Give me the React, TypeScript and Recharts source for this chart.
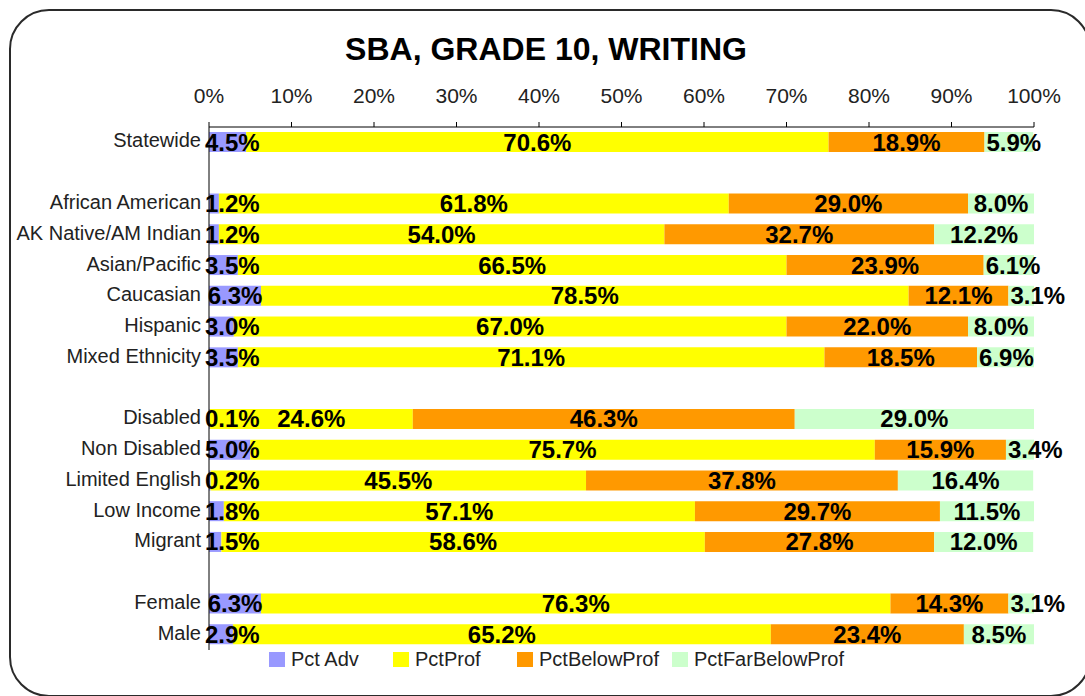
import React from 'react';
import { BarChart, Bar, XAxis, YAxis, Legend, LabelList } from 'recharts';

const categories = ['Statewide', '', 'African American', 'AK Native/AM Indian', 'Asian/Pacific', 'Caucasian', 'Hispanic', 'Mixed Ethnicity', '', 'Disabled', 'Non Disabled', 'Limited English', 'Low Income', 'Migrant', '', 'Female', 'Male'];
const pctAdv = [4.5, null, 1.2, 1.2, 3.5, 6.3, 3.0, 3.5, null, 0.1, 5.0, 0.2, 1.8, 1.5, null, 6.3, 2.9];
const pctProf = [70.6, null, 61.8, 54.0, 66.5, 78.5, 67.0, 71.1, null, 24.6, 75.7, 45.5, 57.1, 58.6, null, 76.3, 65.2];
const pctBelowProf = [18.9, null, 29.0, 32.7, 23.9, 12.1, 22.0, 18.5, null, 46.3, 15.9, 37.8, 29.7, 27.8, null, 14.3, 23.4];
const pctFarBelowProf = [5.9, null, 8.0, 12.2, 6.1, 3.1, 8.0, 6.9, null, 29.0, 3.4, 16.4, 11.5, 12.0, null, 3.1, 8.5];
const xTicks = [0, 10, 20, 30, 40, 50, 60, 70, 80, 90, 100];

const seriesNames = ['Pct Adv', 'PctProf', 'PctBelowProf', 'PctFarBelowProf'];
const seriesKeys = ['adv', 'prof', 'below', 'far'];
const seriesColors = ['#9999FF', '#FFFF00', '#FF9900', '#CCFFCC'];

const data = categories.map((c, i) => ({
  key: i,
  adv: pctAdv[i],
  prof: pctProf[i],
  below: pctBelowProf[i],
  far: pctFarBelowProf[i],
}));

const FONT = '"Liberation Sans", Arial, sans-serif';
const LABEL_SIZE = 24;

const charW = (ch: string) => (ch === '.' ? 0.278 : ch === '%' ? 0.889 : 0.556);
const textWidth = (t: string) => t.split('').reduce((s, c) => s + charW(c), 0) * LABEL_SIZE;

const makeLabel = (mode: 'first' | 'mid' | 'last') => (props: any) => {
  const { x, y, width, height, value } = props;
  if (value === null || value === undefined) return null;
  const text = Number(value).toFixed(1) + '%';
  const w = textWidth(text);
  let cx = Number(x) + Number(width) / 2;
  if (mode === 'first') cx = Math.max(cx, Number(x) - 4 + w / 2);
  if (mode === 'last') cx = Math.max(cx, Number(x) + 2 + w / 2);
  return (
    <text
      x={cx}
      y={Number(y) + Number(height) / 2}
      textAnchor="middle"
      dominantBaseline="central"
      fontFamily={FONT}
      fontWeight="bold"
      fontSize={LABEL_SIZE}
      fill="#000"
    >
      {text}
    </text>
  );
};

const legendSlots = [124, 124, 155, 190];

const renderLegend = () => (
  <div style={{ display: 'flex', alignItems: 'center', height: 21, fontFamily: FONT, fontSize: 20, color: '#222' }}>
    {seriesNames.map((n, i) => (
      <div key={n} style={{ display: 'flex', alignItems: 'center', width: legendSlots[i], lineHeight: '21px' }}>
        <span style={{ display: 'inline-block', width: 16, height: 15, background: seriesColors[i], marginRight: 6 }} />
        <span>{n}</span>
      </div>
    ))}
  </div>
);

export default function App() {
  return (
    <div style={{ position: 'absolute', left: 0, top: 0, width: 1085, height: 696, overflow: 'hidden', background: '#fff' }}>
      <div
        style={{
          position: 'absolute',
          left: 9,
          top: 9,
          width: 1082,
          height: 688,
          border: '2.5px solid #2a2a2a',
          borderRadius: 40,
          boxSizing: 'border-box',
        }}
      />
      <div
        style={{
          position: 'absolute',
          left: 0,
          top: 29,
          width: 1092,
          height: 40,
          lineHeight: '40px',
          textAlign: 'center',
          fontFamily: FONT,
          fontWeight: 'bold',
          fontSize: 32,
          color: '#000',
        }}
      >
        SBA, GRADE 10, WRITING
      </div>
      <div style={{ position: 'absolute', left: 0, top: 0 }}>
        <BarChart
          width={1085}
          height={696}
          data={data}
          layout="vertical"
          margin={{ top: 87, right: 51, bottom: 46, left: 0 }}
          barCategoryGap={0}
        >
          <XAxis
            type="number"
            orientation="top"
            domain={[0, 100]}
            ticks={xTicks}
            allowDataOverflow
            height={40}
            tickFormatter={(v: number) => `${v}%`}
            tick={{ fontSize: 21, fill: '#222', fontFamily: FONT }}
            tickSize={5}
            tickMargin={19}
            axisLine={{ stroke: '#000' }}
            tickLine={{ stroke: '#000' }}
          />
          <YAxis
            type="category"
            dataKey="key"
            width={209}
            tickFormatter={(v: number) => categories[v]}
            tick={{ fontSize: 20, fill: '#222', fontFamily: FONT, dy: -2 }}
            tickLine={false}
            tickSize={0}
            tickMargin={8}
            interval={0}
            axisLine={{ stroke: '#000' }}
          />
          <Legend
            layout="horizontal"
            verticalAlign="middle"
            align="center"
            content={renderLegend}
            wrapperStyle={{ left: 269, top: 649, width: 700, height: 21 }}
          />
          {seriesKeys.map((k, i) => (
            <Bar
              key={k}
              dataKey={k}
              name={seriesNames[i]}
              stackId="s"
              fill={seriesColors[i]}
              barSize={20}
              isAnimationActive={false}
            >
              <LabelList
                dataKey={k}
                content={makeLabel(i === 0 ? 'first' : i === seriesKeys.length - 1 ? 'last' : 'mid')}
              />
            </Bar>
          ))}
        </BarChart>
      </div>
    </div>
  );
}
